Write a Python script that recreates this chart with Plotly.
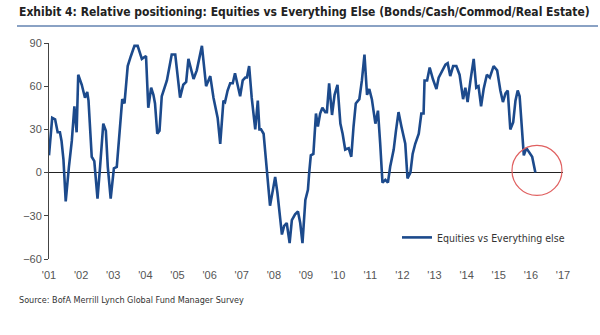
import plotly.graph_objects as go

title_text = "Exhibit 4: Relative positioning: Equities vs Everything Else (Bonds/Cash/Commod/Real Estate)"
source_text = "Source: BofA Merrill Lynch Global Fund Manager Survey"
series_name = "Equities vs Everything else"

# time in decimal years, values in net %
dates = [
    2001.00, 2001.10, 2001.19, 2001.27, 2001.34, 2001.39, 2001.45, 2001.52, 2001.62, 2001.71,
    2001.79, 2001.86, 2001.91, 2002.02, 2002.12, 2002.19, 2002.23, 2002.33, 2002.41, 2002.51,
    2002.59, 2002.69, 2002.77, 2002.83, 2002.92, 2003.02, 2003.11, 2003.21, 2003.28, 2003.35,
    2003.45, 2003.55, 2003.66, 2003.76, 2003.89, 2004.02, 2004.09, 2004.18, 2004.25, 2004.30,
    2004.37, 2004.44, 2004.51, 2004.67, 2004.82, 2004.93, 2005.08, 2005.18, 2005.27, 2005.34,
    2005.50, 2005.60, 2005.76, 2005.89, 2006.02, 2006.12, 2006.20, 2006.25, 2006.33, 2006.43,
    2006.48, 2006.56, 2006.64, 2006.72, 2006.79, 2006.87, 2006.95, 2007.03, 2007.11, 2007.16,
    2007.23, 2007.31, 2007.42, 2007.50, 2007.55, 2007.60, 2007.68, 2007.78, 2007.88, 2007.97,
    2008.04, 2008.11, 2008.18, 2008.25, 2008.32, 2008.40, 2008.49, 2008.56, 2008.66, 2008.75,
    2008.82, 2008.89, 2008.98, 2009.06, 2009.10, 2009.15, 2009.23, 2009.31, 2009.37, 2009.44,
    2009.51, 2009.60, 2009.65, 2009.72, 2009.81, 2009.89, 2009.98, 2010.07, 2010.14, 2010.22,
    2010.33, 2010.41, 2010.48, 2010.55, 2010.66, 2010.74, 2010.82, 2010.90, 2010.97, 2011.05,
    2011.16, 2011.24, 2011.31, 2011.38, 2011.47, 2011.55, 2011.62, 2011.73, 2011.80, 2011.88,
    2011.97, 2012.04, 2012.09, 2012.16, 2012.25, 2012.32, 2012.40, 2012.51, 2012.59, 2012.66,
    2012.69, 2012.77, 2012.85, 2012.95, 2013.06, 2013.13, 2013.23, 2013.34, 2013.41, 2013.49,
    2013.58, 2013.68, 2013.78, 2013.89, 2013.96, 2014.03, 2014.12, 2014.22, 2014.30, 2014.37,
    2014.45, 2014.53, 2014.63, 2014.72, 2014.84, 2014.95, 2015.05, 2015.13, 2015.21, 2015.28,
    2015.36, 2015.45, 2015.52, 2015.59, 2015.65, 2015.72, 2015.78, 2015.86, 2015.96, 2016.04,
    2016.14,
]
values = [
    12, 38, 37, 28, 28, 22, 9, -20, 4, 22,
    46, 28, 68, 61, 52, 56, 50, 11, 8, -18,
    4, 34, 29, 4, -18, 3, 4, 36, 51, 48,
    74, 81, 88, 88, 79, 81, 45, 59, 54, 48,
    27, 29, 53, 64, 82, 82, 52, 61, 63, 79,
    65, 71, 88, 60, 67, 52, 42, 38, 20, 50,
    49, 57, 62, 62, 69, 62, 53, 64, 66, 66,
    74, 52, 30, 50, 30, 30, 27, 2, -23, -12,
    -3, -14, -28, -43, -37, -35, -49, -33, -29, -27,
    -35, -49, -19, -12, 0, 12, 13, 41, 32, 41,
    45, 42, 42, 62, 40, 54, 61, 34, 27, 16,
    17, 11, 32, 48, 51, 64, 82, 54, 58, 51,
    34, 43, 20, -7, -5, -7, 4, 16, 29, 42,
    32, 25, 20, -4, 0, 13, 20, 27, 41, 41,
    64, 64, 73, 65, 58, 66, 70, 75, 76, 67,
    74, 74, 68, 51, 59, 49, 64, 79, 59, 60,
    46, 58, 68, 66, 74, 71, 57, 49, 55, 57,
    30, 35, 50, 57, 53, 27, 12, 17, 14, 11,
    0,
]

tick_years = list(range(2001, 2018))
tick_labels = ["'%02d" % (y % 100) for y in tick_years]
y_ticks = [-60, -30, 0, 30, 60, 90]

line_color = "#1c4a8c"
narrow = "DejaVu Sans Condensed, Roboto, Arial"

fig = go.Figure()
fig.add_trace(go.Scatter(
    x=dates, y=values, mode="lines", name=series_name,
    line=dict(color=line_color, width=2.6),
    showlegend=True,
))

fig.update_layout(
    width=600, height=335,
    margin=dict(l=49, r=37, t=43, b=76),
    paper_bgcolor="white", plot_bgcolor="white",
    font=dict(family="Liberation Sans, Arial", color="#555555", size=11),
    xaxis=dict(
        range=[2001, 2017], tickvals=tick_years, ticktext=tick_labels,
        showgrid=False, zeroline=False, showline=False, ticks="",
        ticklabelstandoff=8, tickfont=dict(size=11, color="#555555"),
    ),
    yaxis=dict(
        range=[-60, 90], tickvals=y_ticks, showgrid=False,
        zeroline=True, zerolinecolor="#222222", zerolinewidth=1,
        showline=True, linecolor="#444444", linewidth=1,
        ticks="outside", ticklen=4, tickcolor="#444444",
        tickfont=dict(size=11, color="#555555"),
    ),
    legend=dict(
        x=0.677, y=0.10, xanchor="left", yanchor="middle",
        bgcolor="rgba(0,0,0,0)", font=dict(size=10.5, color="#333333", family=narrow),
        itemwidth=30,
    ),
    showlegend=True,
)

# title + underline
fig.add_annotation(
    text="<b>" + title_text + "</b>", xref="paper", yref="paper",
    x=(17 - 49) / 514, y=1 + (43 - 12) / 215.7, xanchor="left", yanchor="middle",
    showarrow=False, font=dict(family=narrow, size=12, color="#222222"),
)
fig.add_shape(
    type="line", xref="paper", yref="paper",
    x0=(17 - 49) / 514, x1=(598 - 49) / 514,
    y0=1 + (43 - 26) / 215.7, y1=1 + (43 - 26) / 215.7,
    line=dict(color="#8aa2c4", width=2),
)
# source
fig.add_annotation(
    text=source_text, xref="paper", yref="paper",
    x=(17 - 49) / 514, y=-(300 - 259) / 215.7, xanchor="left", yanchor="middle",
    showarrow=False, font=dict(family=narrow, size=9, color="#333333"),
)
# red highlight circle
fig.add_shape(
    type="circle", xref="x", yref="y", xsizemode="pixel", ysizemode="pixel",
    xanchor=2016.19, yanchor=1.5, x0=-25, x1=25, y0=-25, y1=25,
    line=dict(color="#e06060", width=1.2),
)

fig.write_html("out.html")
